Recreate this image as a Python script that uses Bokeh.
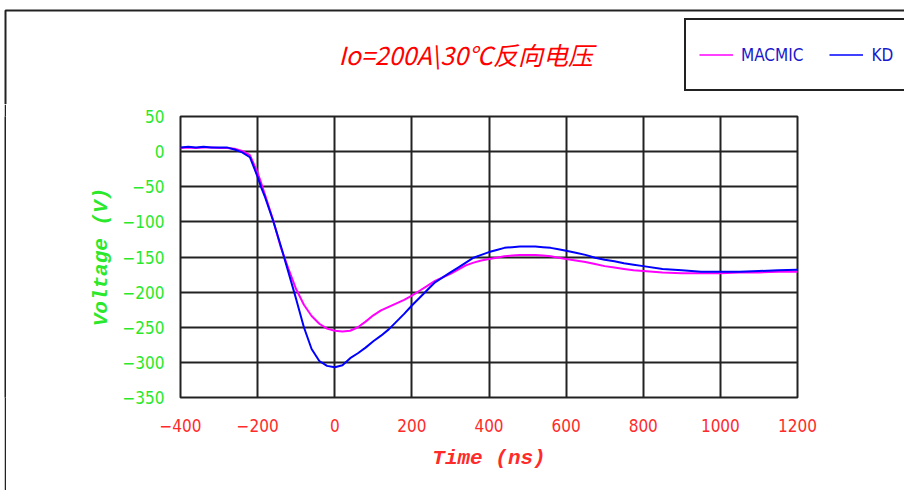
from bokeh.plotting import figure
from bokeh.models import Legend, LegendItem, BoxAnnotation, FixedTicker, Label, Range1d, Spacer
from bokeh.layouts import column, row
from bokeh.embed import file_html
from bokeh.resources import INLINE

time_ns = [-400, -380, -360, -340, -320, -300, -280, -260, -240, -220, -200, -190, -180, -160, -140, -120, -100,
           -80, -60, -40, -20, 0, 20, 40, 60, 80, 100, 120, 140, 160, 180, 200, 220, 240, 260, 280, 300,
           320, 340, 360, 380, 400, 420, 440, 460, 480, 500, 520, 540, 560, 580, 600, 625, 650, 675, 700,
           725, 750, 775, 800, 850, 900, 950, 1000, 1050, 1100, 1150, 1200]

macmic = [5, 6, 5, 6, 6, 5, 5, 4, 1, -5, -30, -46, -63, -97, -136, -167, -196,
          -218, -234, -245, -252, -255, -256, -255, -250, -242, -233, -226, -221, -216, -211, -205, -198, -191, -184, -179, -174,
          -168, -162, -158, -155, -153, -151, -149, -148, -147, -147, -147, -148, -149, -151, -153, -155, -157, -160, -163,
          -165, -167, -169, -170, -172, -173, -173, -173, -172, -172, -171, -171]

kd = [6, 7, 6, 7, 6, 6, 6, 3, -1, -8, -36, -52, -66, -98, -134, -172, -210,
      -250, -281, -298, -305, -307, -304, -294, -287, -279, -270, -262, -253, -242, -231, -219, -208, -197, -186, -179, -172,
      -165, -158, -151, -147, -143, -140, -137, -136, -135, -135, -135, -136, -137, -139, -141, -144, -147, -151, -154,
      -156, -159, -161, -163, -167, -169, -171, -171, -171, -170, -169, -168]

series_names = ["MACMIC", "KD"]
series_colors = ["#ff00ff", "#0000ff"]

x_ticks = [-400, -200, 0, 200, 400, 600, 800, 1000, 1200]
y_ticks = [50, 0, -50, -100, -150, -200, -250, -300, -350]

title_text = "Io=200A\\30℃反向电压"

TICK_FONT = "DejaVu Sans Condensed, Liberation Sans"
EDGE = "#222222"
NAN = float("nan")

# ---------- top strip: frame border, title, legend ----------
top = figure(width=904, height=104, output_backend="svg", toolbar_location=None,
             x_range=Range1d(0, 904), y_range=Range1d(104, 0),
             x_axis_type=None, y_axis_type=None, min_border=0)
top.outline_line_color = None
top.grid.visible = False
top.border_fill_color = "white"

top.add_layout(BoxAnnotation(left=5, right=3000, top=10, bottom=3000,
                             fill_alpha=0, line_color=EDGE, line_alpha=1.0, line_width=2))
top.add_layout(Label(x=338, y=53, text=title_text, text_align="left", text_baseline="middle",
                     text_color="#ff0000", text_font="Noto Sans CJK SC", text_font_style="italic",
                     text_font_size="25px"))

# legend-only renderers (no visible data in this strip)
dummy = [top.line(x=[NAN], y=[NAN], line_color=c, line_width=1.5) for c in series_colors]
legend = Legend(items=[LegendItem(label=n, renderers=[r]) for n, r in zip(series_names, dummy)],
                orientation="horizontal", location=(684, 13),
                glyph_width=34, glyph_height=43, padding=13, spacing=26, label_standoff=8,
                label_text_font=TICK_FONT, label_text_font_size="17px",
                label_text_color="#1a1acc", border_line_color=EDGE, border_line_alpha=1.0,
                border_line_width=2, background_fill_alpha=1.0, margin=0)
top.add_layout(legend, "center")

# ---------- left strip: frame border line ----------
strip = figure(width=2, height=386, output_backend="svg", toolbar_location=None,
               x_range=Range1d(0, 1), y_range=Range1d(0, 1),
               x_axis_type=None, y_axis_type=None, min_border=0)
strip.outline_line_color = None
strip.grid.visible = False
strip.background_fill_color = EDGE
strip.border_fill_color = EDGE

# ---------- main chart ----------
p = figure(width=898, height=386, output_backend="svg", toolbar_location=None,
           x_range=(-400, 1200), y_range=(-350, 50),
           min_border_left=174, min_border_right=107, min_border_top=12, min_border_bottom=93)

for vals, c in zip([macmic, kd], series_colors):
    p.line(time_ns, vals, line_color=c, line_width=2)

p.xaxis.ticker = FixedTicker(ticks=x_ticks)
p.yaxis.ticker = FixedTicker(ticks=y_ticks)
for ax in (p.xaxis, p.yaxis):
    ax.axis_line_color = None
    ax.major_tick_line_color = None
    ax.minor_tick_line_color = None
    ax.major_label_text_font = TICK_FONT
    ax.major_label_text_font_size = "17px"
    ax.axis_label_text_font = "Liberation Mono"
    ax.axis_label_text_font_style = "bold italic"
    ax.axis_label_text_font_size = "21px"

p.xaxis.major_label_text_color = "#ff2a2a"
p.xaxis.axis_label = "Time (ns)"
p.xaxis.axis_label_text_color = "#ff2a2a"
p.xaxis.major_label_standoff = 15
p.xaxis.axis_label_standoff = 12

p.yaxis.major_label_text_color = "#2ae82a"
p.yaxis.axis_label = "Voltage (V)"
p.yaxis.axis_label_text_color = "#2ae82a"
p.yaxis.major_label_standoff = 10
p.yaxis.axis_label_standoff = 6

p.grid.grid_line_color = EDGE
p.grid.grid_line_width = 2
p.outline_line_color = EDGE
p.outline_line_width = 2

layout = column(top, row(Spacer(width=4, height=386), strip, p, spacing=0), spacing=0)
open("out.html", "w").write(file_html(layout, INLINE))
